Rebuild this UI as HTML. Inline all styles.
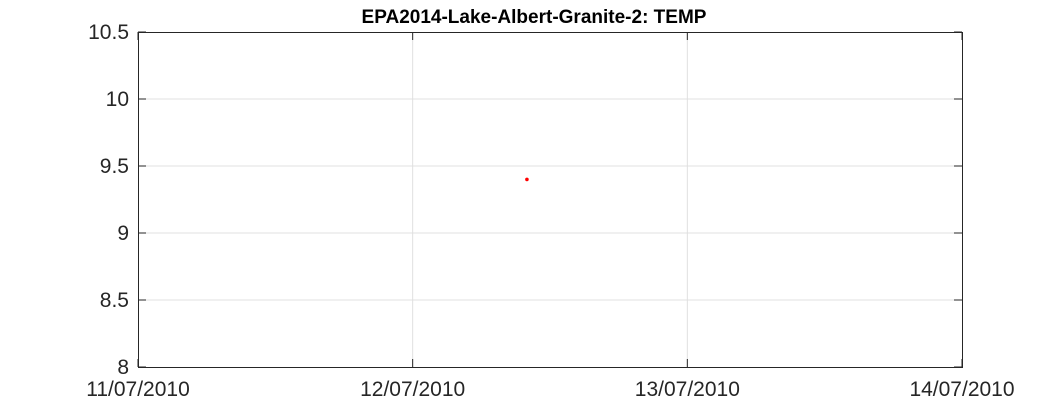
<!DOCTYPE html>
<html><head><meta charset="utf-8"><style>
body{margin:0;background:#fff;width:1063px;height:413px;overflow:hidden}
svg text{font-family:"Liberation Sans",Arial,sans-serif}
</style></head><body>
<svg id="chart" width="1063" height="413">
<rect x="0" y="0" width="1063" height="413" fill="#fff"/>
<text x="534" y="23" text-anchor="middle" font-size="19" font-weight="bold" fill="#000">EPA2014-Lake-Albert-Granite-2: TEMP</text>
<g id="grid"></g><g id="axes"></g><g id="marks"></g>
</svg>
<script>
const xTickLabels=["11/07/2010","12/07/2010","13/07/2010","14/07/2010"];
const yTickValues=[8,8.5,9,9.5,10,10.5];
const yTickLabels=["8","8.5","9","9.5","10","10.5"];
const seriesDays=[1.416]; // days since 11/07/2010
const seriesTemp=[9.4];
const L=138,R=962,T=32,B=367,xMin=0,xMax=3,yMin=8,yMax=10.5;
const xs=d=>L+(d-xMin)/(xMax-xMin)*(R-L);
const ys=v=>B-(v-yMin)/(yMax-yMin)*(B-T);
const NS="http://www.w3.org/2000/svg";
function mk(tag,attrs,parent){const e=document.createElementNS(NS,tag);for(const k in attrs)e.setAttribute(k,attrs[k]);parent.appendChild(e);return e;}
const grid=document.getElementById('grid'),axes=document.getElementById('axes'),marks=document.getElementById('marks');
xTickLabels.forEach((lab,i)=>{const x=xs(i);
 if(i>0&&i<xTickLabels.length-1){const g=mk('line',{x1:x,x2:x,y1:T,y2:B,stroke:'#e0e0e0','stroke-width':1},grid);
 
 }
 const t1=mk('line',{x1:x,x2:x,y1:B,y2:B-8,stroke:'#262626'},axes);
 
 
 const t2=mk('line',{x1:x,x2:x,y1:T,y2:T+8,stroke:'#262626'},axes);
 
 
 const tx=mk('text',{x:x,y:396,'text-anchor':'middle','font-size':21,fill:'#262626'},axes);tx.textContent=lab;
 
 
});
yTickValues.forEach((v,i)=>{const y=ys(v);
 if(i>0&&i<yTickValues.length-1){const g=mk('line',{x1:L,x2:R,y1:y,y2:y,stroke:'#e0e0e0','stroke-width':1},grid);
 
 }
 const t1=mk('line',{x1:L,x2:L+8,y1:y,y2:y,stroke:'#262626'},axes);
 
 
 const t2=mk('line',{x1:R,x2:R-8,y1:y,y2:y,stroke:'#262626'},axes);
 
 
 const tx=mk('text',{x:L-9,y:y+7,'text-anchor':'end','font-size':21,fill:'#262626'},axes);tx.textContent=yTickLabels[i];
 
 
});
const box=mk('rect',{x:L+0.5,y:T+0.5,width:R-L,height:B-T,fill:'none',stroke:'#262626','stroke-width':1},axes);


seriesDays.forEach((d,i)=>{const c=mk('circle',{cx:xs(d),cy:ys(seriesTemp[i]),r:1.8,fill:'#ff0000'},marks);
 
 });
</script>
</body></html>
